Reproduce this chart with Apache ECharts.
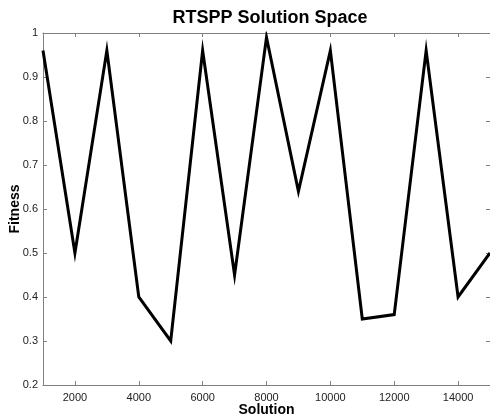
<!DOCTYPE html>
<html><head><meta charset="utf-8">
<script src="https://cdn.jsdelivr.net/npm/echarts@6/dist/echarts.min.js"></script>
<style>html,body{margin:0;padding:0;background:#fff}#c{width:490px;height:420px}</style>
</head><body><div id="c"></div>
<script>
const solutions = [1000,2000,3000,4000,5000,6000,7000,8000,9000,10000,11000,12000,13000,14000,15000];
const fitness = [0.96,0.50,0.96,0.40,0.30,0.96,0.45,0.99,0.64,0.96,0.35,0.36,0.96,0.40,0.50];
const xTicks = [2000,4000,6000,8000,10000,12000,14000];
const yTicks = [0.2,0.3,0.4,0.5,0.6,0.7,0.8,0.9,1];

const F = '"Liberation Sans", Arial, sans-serif';
const axisLine = {show:true, lineStyle:{color:'#808080', width:1}};
const chart = echarts.init(document.getElementById('c'), null, {renderer:'canvas'});
chart.setOption({
  animation:false,
  backgroundColor:'#fff',
  title:{text:'RTSPP Solution Space', left:265, top:4, textAlign:'center',
    textStyle:{fontFamily:F, fontWeight:'bold', fontSize:18, color:'#000'}},
  grid:{left:43, right:0, top:33, bottom:35, containLabel:false, outerBoundsMode:'none'},
  xAxis:[{
    type:'value', min:1000, max:15000, position:'bottom',
    name:'Solution', nameLocation:'middle', nameGap:18, nameMoveOverlap:false,
    nameTextStyle:{fontFamily:F, fontWeight:'bold', fontSize:14, color:'#000'},
    axisLine:axisLine,
    axisTick:{show:true, inside:true, length:4, customValues:xTicks, lineStyle:{color:'#808080'}},
    axisLabel:{customValues:xTicks, fontFamily:F, fontSize:11, color:'#222', margin:7,
      formatter:v=>String(v)},
    splitLine:{show:false}
  },{
    type:'value', min:1000, max:15000, position:'top',
    axisLine:axisLine,
    axisTick:{show:true, inside:true, length:4, customValues:xTicks, lineStyle:{color:'#808080'}},
    axisLabel:{show:false}, splitLine:{show:false}
  }],
  yAxis:[{
    type:'value', min:0.2, max:1, interval:0.1, position:'left',
    name:'Fitness', nameLocation:'middle', nameGap:21, nameMoveOverlap:false,
    nameTextStyle:{fontFamily:F, fontWeight:'bold', fontSize:14, color:'#000'},
    axisLine:axisLine,
    axisTick:{show:true, inside:true, length:4, lineStyle:{color:'#808080'}},
    axisLabel:{fontFamily:F, fontSize:11, color:'#222', margin:5,
      formatter:v=>String(Math.round(v*10)/10)},
    splitLine:{show:false}
  },{
    type:'value', min:0.2, max:1, interval:0.1, position:'right',
    axisLine:axisLine,
    axisTick:{show:true, inside:true, length:4, lineStyle:{color:'#808080'}},
    axisLabel:{show:false}, splitLine:{show:false}
  }],
  series:[{
    type:'line', data:solutions.map((s,i)=>[s,fitness[i]]),
    showSymbol:false, symbol:'none',
    lineStyle:{color:'#000', width:3, join:'miter'},
    clip:true
  }]
});
</script></body></html>
